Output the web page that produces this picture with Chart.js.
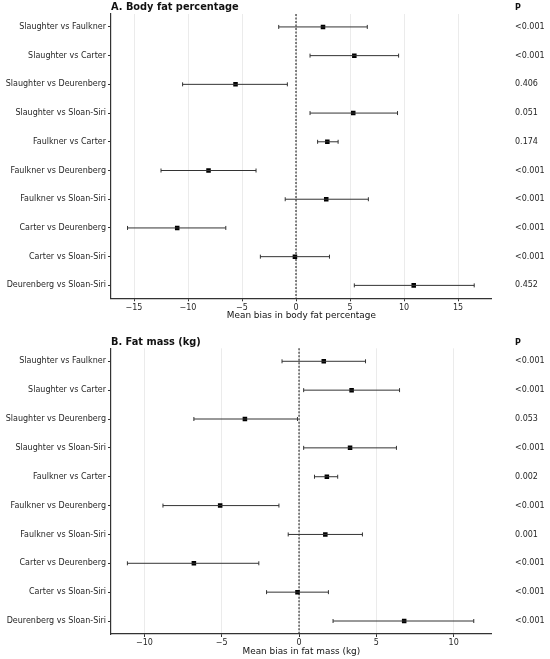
<!DOCTYPE html>
<html>
<head>
<meta charset="utf-8">
<script src="https://cdn.jsdelivr.net/npm/chart.js@4.4.1/dist/chart.umd.min.js"></script>
<style>
  body { margin: 0; background: #fff; }
  .panel { position: relative; width: 550px; }
  #panelA { height: 330px; }
  #panelB { height: 329px; }
</style>
</head>
<body>
<div class="panel" id="panelA"><canvas id="chartA"></canvas></div>
<div class="panel" id="panelB"><canvas id="chartB"></canvas></div>
<script>
const comparisons = [
    'Slaughter vs Faulkner', 'Slaughter vs Carter', 'Slaughter vs Deurenberg',
    'Slaughter vs Sloan-Siri', 'Faulkner vs Carter', 'Faulkner vs Deurenberg',
    'Faulkner vs Sloan-Siri', 'Carter vs Deurenberg', 'Carter vs Sloan-Siri',
    'Deurenberg vs Sloan-Siri'
];

// A. body fat percentage
const meanA  = [2.5, 5.4, -5.6, 5.3, 2.9, -8.1, 2.8, -11.0, -0.1, 10.9];
const lowerA = [-1.6, 1.3, -10.5, 1.3, 2.0, -12.5, -1.0, -15.6, -3.3, 5.4];
const upperA = [6.6, 9.5, -0.8, 9.4, 3.9, -3.7, 6.7, -6.5, 3.1, 16.5];
const pA = ['<0.001', '<0.001', '0.406', '0.051', '0.174', '<0.001', '<0.001', '<0.001', '<0.001', '0.452'];
const ticksA = [-15, -10, -5, 0, 5, 10, 15];

// B. fat mass (kg)
const meanB  = [1.6, 3.4, -3.5, 3.3, 1.8, -5.1, 1.7, -6.8, -0.1, 6.8];
const lowerB = [-1.1, 0.3, -6.8, 0.3, 1.0, -8.8, -0.7, -11.1, -2.1, 2.2];
const upperB = [4.3, 6.5, -0.1, 6.3, 2.5, -1.3, 4.1, -2.6, 1.9, 11.3];
const pB = ['<0.001', '<0.001', '0.053', '<0.001', '0.002', '<0.001', '0.001', '<0.001', '<0.001', '<0.001'];
const ticksB = [-10, -5, 0, 5, 10];

const FONT = 'DejaVu Sans';
const INK = '#262626';

// dashed zero line, panel title and "P" header
const forestPlugin = {
    id: 'forest',
    beforeDatasetsDraw(chart) {
        const {ctx, chartArea, scales} = chart;
        const x0 = scales.x.getPixelForValue(0);
        ctx.save();
        ctx.setLineDash([2, 1.5]);
        ctx.strokeStyle = '#333';
        ctx.lineWidth = 1.2;
        ctx.beginPath();
        ctx.moveTo(x0, chartArea.top);
        ctx.lineTo(x0, chartArea.bottom);
        ctx.stroke();
        ctx.restore();
    },
    afterDraw(chart, args, opts) {
        const {ctx, chartArea, scales} = chart;
        ctx.save();
        ctx.fillStyle = '#111';
        ctx.textBaseline = 'middle';
        ctx.font = 'bold 9.8px "' + FONT + '"';
        ctx.fillText(opts.title, chartArea.left, opts.titleY);
        ctx.font = 'bold 8px "' + FONT + '"';
        ctx.fillText('P', scales.yP.left + 23.3, opts.titleY + 0.5);
        ctx.restore();
    }
};

function rowTicks() {
    return comparisons.map((c, i) => ({value: i}));
}

function makeChart(canvas, means, lowers, uppers, pvals, xTicks, xmin, xmax, title, xTitle, pad) {
    const datasets = [];
    for (let i = 0; i < means.length; i++) {
        datasets.push({
            showLine: true,
            data: [{x: lowers[i], y: i}, {x: uppers[i], y: i}],
            borderColor: '#333',
            borderWidth: 1,
            pointStyle: 'line',
            rotation: 90,
            pointRadius: 2,
            pointBorderColor: '#333',
            pointBorderWidth: 1
        });
    }
    datasets.push({
        data: means.map((m, i) => ({x: m, y: i})),
        pointStyle: 'rect',
        pointRadius: 3.2,
        backgroundColor: '#000',
        borderColor: '#000',
        pointBorderWidth: 0
    });

    return new Chart(canvas, {
        type: 'scatter',
        data: {datasets: datasets},
        plugins: [forestPlugin],
        options: {
            responsive: true,
            maintainAspectRatio: false,
            animation: false,
            events: [],
            layout: {padding: {top: pad.top, bottom: pad.bottom, left: 0, right: 0}},
            plugins: {
                legend: {display: false},
                tooltip: {enabled: false},
                forest: {title: title, titleY: pad.titleY}
            },
            scales: {
                x: {
                    type: 'linear',
                    min: xmin,
                    max: xmax,
                    afterBuildTicks: s => { s.ticks = xTicks.map(v => ({value: v})); },
                    afterFit: s => { s.height = 24; s.paddingLeft = 0; s.paddingRight = 0; },
                    grid: {color: '#ebebeb', lineWidth: 1, tickColor: '#333', tickLength: 3},
                    border: {color: '#333', width: 1.2},
                    ticks: {
                        font: {family: FONT, size: 8},
                        color: INK,
                        padding: 1.5,
                        maxRotation: 0,
                        callback: v => (v < 0 ? '\u2212' + Math.abs(v) : String(v))
                    },
                    title: {
                        display: true,
                        text: xTitle,
                        font: {family: FONT, size: 8.9},
                        color: '#111',
                        padding: {top: 0, bottom: 1}
                    }
                },
                y: {
                    type: 'linear',
                    reverse: true,
                    min: -0.45,
                    max: 9.45,
                    afterBuildTicks: s => { s.ticks = rowTicks(); },
                    afterFit: s => { s.width = 111; s.paddingTop = 0; s.paddingBottom = 0; },
                    grid: {drawOnChartArea: false, tickColor: '#333', tickLength: 3},
                    border: {color: '#333', width: 1.2},
                    ticks: {
                        font: {family: FONT, size: 8},
                        color: INK,
                        padding: 2,
                        callback: v => comparisons[v]
                    }
                },
                yP: {
                    type: 'linear',
                    position: 'right',
                    reverse: true,
                    min: -0.45,
                    max: 9.45,
                    afterBuildTicks: s => { s.ticks = rowTicks(); },
                    afterFit: s => { s.width = 58.3; s.paddingTop = 0; s.paddingBottom = 0; },
                    grid: {display: false, drawTicks: false},
                    border: {display: false},
                    ticks: {
                        font: {family: FONT, size: 8},
                        color: INK,
                        padding: 23.3,
                        callback: v => pvals[v]
                    }
                }
            }
        }
    });
}

makeChart(document.getElementById('chartA'), meanA, lowerA, upperA, pA, ticksA, -17.13, 18.12,
    'A. Body fat percentage', 'Mean bias in body fat percentage',
    {top: 14, bottom: 7.7, titleY: 7});

makeChart(document.getElementById('chartB'), meanB, lowerB, upperB, pB, ticksB, -12.16, 12.46,
    'B. Fat mass (kg)', 'Mean bias in fat mass (kg)',
    {top: 18.3, bottom: 1, titleY: 12});
</script>
</body>
</html>
